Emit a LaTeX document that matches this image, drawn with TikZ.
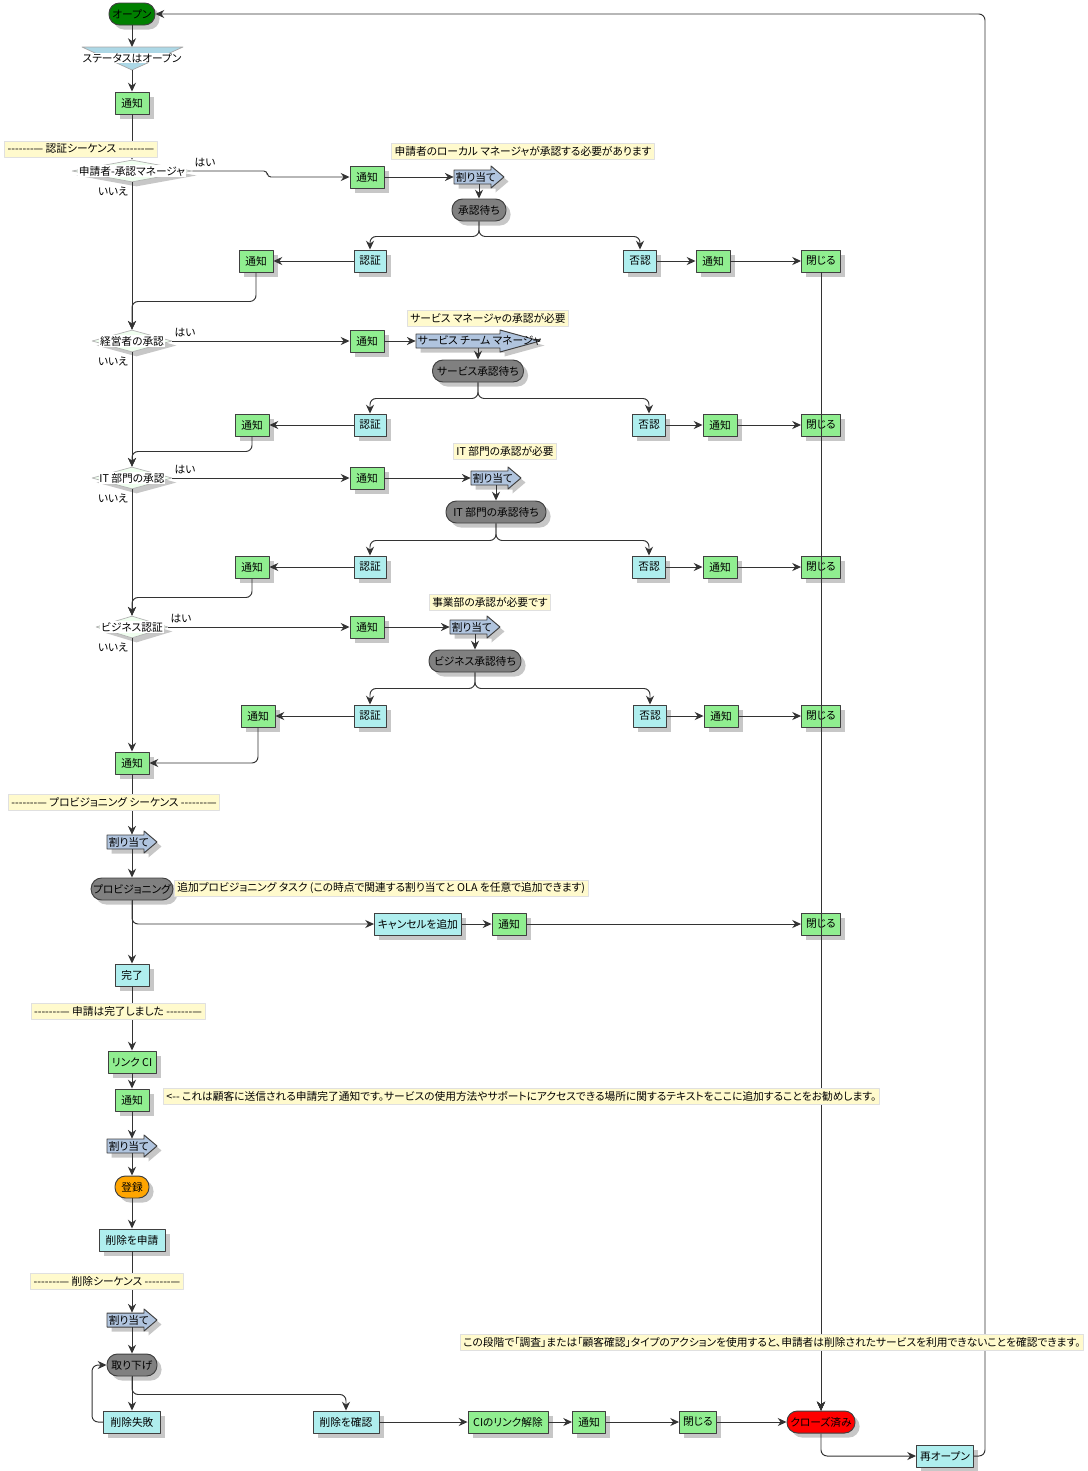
\documentclass[tikz,border=0pt]{standalone}
\usepackage{fontspec}
\setmainfont{Noto Sans CJK JP}[RawFeature=+palt]
\usetikzlibrary{arrows.meta,shapes.geometric,shadows,calc}
\definecolor{ntfgreen}{HTML}{90EE90}
\definecolor{actcyan}{HTML}{AFEEEE}
\definecolor{waitgray}{HTML}{808080}
\definecolor{asgblue}{HTML}{B0C4DE}
\definecolor{notefill}{HTML}{FFFACD}
\definecolor{diafill}{HTML}{F0FFF0}
\definecolor{openbg}{HTML}{008000}
\definecolor{regorange}{HTML}{FFA500}
\definecolor{statblue}{HTML}{ADD8E6}
\newcommand\seqdash{-{}-{}-{}-{}-{}-{}-—}
\newcommand \myasg[6]
{
\node[inner sep=0pt, minimum width=2*#4*0.02cm, minimum height=0.28cm] (#1) at (#2,#3) {};
\draw[asgshape] (#2-#4,#3-7) -- (#2+#4-#5,#3-7) -- (#2+#4-#5,#3-11) -- (#2+#4,#3)
  -- (#2+#4-#5,#3+11) -- (#2+#4-#5,#3+7) -- (#2-#4,#3+7) -- cycle;
\node[anchor=west, inner sep=1pt] at (#1.west) {#6};
}
\newcommand \mydia[5]
{
\node[dia, minimum width=#4*0.02cm] (#1) at (#2,#3) {};
\node[diatext] at (#1) {#5};
}
\begin{document}
\begin{tikzpicture}[x=0.02cm, y=-0.02cm, line join=round,
  shad/.style={drop shadow={shadow xshift=0.09cm, shadow yshift=-0.09cm, fill=black!22, opacity=1}},
  box/.style={draw=black!75, line width=0.55pt, minimum height=0.44cm, inner xsep=0.04cm, inner ysep=0pt, shad},
  pxw/.style={minimum width=#1*0.02cm},
  ntf/.style={box, fill=ntfgreen, pxw=34},
  act/.style={box, fill=actcyan},
  pill/.style={box, rounded corners=0.21cm, fill=waitgray},
  dia/.style={diamond, draw=black!30, fill=diafill, inner sep=0pt, minimum height=0.44cm, shad},
  diatext/.style={fill=white, inner sep=0.4pt},
  asgshape/.style={draw=black!75, line width=0.55pt, fill=asgblue, shad},
  note/.style={draw=black!12, fill=notefill, inner xsep=0.06cm, inner ysep=0pt, minimum height=0.32cm},
  yn/.style={inner sep=0pt},
  conn/.style={draw=black!80, line width=0.55pt, rounded corners=3.5pt, -{Stealth[length=5pt,width=4.6pt]}},
  every node/.style={font=\fontsize{6.1}{7.2}\selectfont}]
\useasboundingbox (0,0) rectangle (1088,1471);

% start
\node[pill, fill=openbg, pxw=46] (open) at (132,14) {オープン};
\draw[draw=black!35, fill=statblue] (82,47) -- (183,47) -- (132,70) -- cycle;
\coordinate (sttop) at (132,47);
\coordinate (stbot) at (132,70);
\node[diatext] (stat) at (132,58) {ステータスはオープン};
\node[ntf] (ntf0) at (132,103) {通知};

% local manager approval
\mydia{dia1}{132}{171}{120}{申請者-承認マネージャ}
\node[yn] (yes1) at (205,163) {はい};
\node[yn] (no1) at (113,191) {いいえ};
\node[ntf] (ntf1) at (367,177) {通知};
\myasg{asg1}{479}{177}{25}{13}{割り当て}
\node[pill, pxw=54] (wait1) at (479,210) {承認待ち};
\node[act, pxw=32] (auth1) at (370,261) {認証};
\node[act, pxw=33] (rej1) at (640,261) {否認};
\node[ntf] (ntfr1) at (713,261) {通知};
\node[ntf, pxw=39] (cls1) at (821,261) {閉じる};
\node[ntf] (ntfl1) at (256,261) {通知};

% service manager approval
\mydia{dia2}{132}{341}{80}{経営者の承認}
\node[yn] (yes2) at (185,333) {はい};
\node[yn] (no2) at (113,361) {いいえ};
\node[ntf] (ntf2) at (367,341) {通知};
\myasg{asg2}{478}{341}{62}{40}{サービス チーム マネージャ}
\node[pill, pxw=91] (wait2) at (478,371) {サービス承認待ち};
\node[act, pxw=32] (auth2) at (370,425) {認証};
\node[act, pxw=33] (rej2) at (649,425) {否認};
\node[ntf] (ntfr2) at (720,425) {通知};
\node[ntf, pxw=39] (cls2) at (821,425) {閉じる};
\node[ntf] (ntfl2) at (252,425) {通知};

% IT approval
\mydia{dia3}{132}{478}{80}{IT 部門の承認}
\node[yn] (yes3) at (185,470) {はい};
\node[yn] (no3) at (113,498) {いいえ};
\node[ntf] (ntf3) at (367,478) {通知};
\myasg{asg3}{496}{478}{25}{13}{割り当て}
\node[pill, pxw=100] (wait3) at (496,512) {IT 部門の承認待ち};
\node[act, pxw=32] (auth3) at (370,567) {認証};
\node[act, pxw=33] (rej3) at (649,567) {否認};
\node[ntf] (ntfr3) at (720,567) {通知};
\node[ntf, pxw=39] (cls3) at (821,567) {閉じる};
\node[ntf] (ntfl3) at (252,567) {通知};

% business approval
\mydia{dia4}{132}{627}{72}{ビジネス認証}
\node[yn] (yes4) at (181,619) {はい};
\node[yn] (no4) at (113,647) {いいえ};
\node[ntf] (ntf4) at (367,627) {通知};
\myasg{asg4}{475}{627}{25}{13}{割り当て}
\node[pill, pxw=92] (wait4) at (475,661) {ビジネス承認待ち};
\node[act, pxw=32] (auth4) at (370,716) {認証};
\node[act, pxw=33] (rej4) at (650,716) {否認};
\node[ntf] (ntfr4) at (721,716) {通知};
\node[ntf, pxw=39] (cls4) at (821,716) {閉じる};
\node[ntf] (ntfl4) at (258,716) {通知};
\node[ntf] (ntf5) at (132,763) {通知};

% provisioning
\myasg{asg5}{132}{842}{25}{13}{割り当て}
\node[pill, pxw=78] (prov) at (132,889) {プロビジョニング};
\node[act, pxw=87] (cancel) at (418,924) {キャンセルを追加};
\node[ntf] (ntf6) at (509,924) {通知};
\node[ntf, pxw=39] (cls5) at (821,924) {閉じる};
\node[act, pxw=34] (done) at (132,975) {完了};
\node[ntf, pxw=48] (link) at (132,1062) {リンク CI};
\node[ntf] (ntf7) at (132,1100) {通知};
\myasg{asg6}{132}{1146}{25}{13}{割り当て}
\node[pill, fill=regorange, pxw=34] (reg) at (132,1187) {登録};
\node[act, pxw=66] (delreq) at (132,1240) {削除を申請};

% removal
\myasg{asg7}{132}{1320}{25}{13}{割り当て}
\node[pill, pxw=50] (wd) at (132,1365) {取り下げ};
\node[act, pxw=57] (fail) at (132,1422) {削除失敗};
\node[act, pxw=66] (conf) at (346,1422) {削除を確認};
\node[ntf, pxw=80] (unlink) at (508,1422) {CIのリンク解除};
\node[ntf, pxw=33] (ntf8) at (589,1422) {通知};
\node[ntf, pxw=37] (cls6) at (698,1422) {閉じる};
\node[pill, fill=red, pxw=68] (closed) at (821,1422) {クローズ済み};
\node[act, pxw=57] (reopen) at (945,1456) {再オープン};

% connectors
\draw[conn] (open.south) -- (sttop);
\draw[conn] (stbot) -- (ntf0.north);
\draw[conn] (ntf0.south) -- (dia1.north);
\draw[conn, rounded corners=2pt] (dia1.east) -- ++(75,0) |- (ntf1.west);
\draw[conn] (ntf1.east) -- (asg1.west);
\draw[conn] (asg1.south) -- (wait1.north);
\draw[conn] (wait1.south) -- ++(0,15) -| (auth1.north);
\draw[conn] (wait1.south) -- ++(0,15) -| (rej1.north);
\draw[conn] (rej1.east) -- (ntfr1.west);
\draw[conn] (ntfr1.east) -- (cls1.west);
\draw[conn] (auth1.west) -- (ntfl1.east);
\draw[conn] (ntfl1.south) -- ++(0,29) -| (dia2.north);
\draw[conn] (dia1.south) -- (dia2.north);

\draw[conn] (dia2.east) -- (ntf2.west);
\draw[conn] (ntf2.east) -- (asg2.west);
\draw[conn] (asg2.south) -- (wait2.north);
\draw[conn] (wait2.south) -- ++(0,16) -| (auth2.north);
\draw[conn] (wait2.south) -- ++(0,16) -| (rej2.north);
\draw[conn] (rej2.east) -- (ntfr2.west);
\draw[conn] (ntfr2.east) -- (cls2.west);
\draw[conn] (auth2.west) -- (ntfl2.east);
\draw[conn] (ntfl2.south) -- ++(0,15) -| (dia3.north);
\draw[conn] (dia2.south) -- (dia3.north);

\draw[conn] (dia3.east) -- (ntf3.west);
\draw[conn] (ntf3.east) -- (asg3.west);
\draw[conn] (asg3.south) -- (wait3.north);
\draw[conn] (wait3.south) -- ++(0,17) -| (auth3.north);
\draw[conn] (wait3.south) -- ++(0,17) -| (rej3.north);
\draw[conn] (rej3.east) -- (ntfr3.west);
\draw[conn] (ntfr3.east) -- (cls3.west);
\draw[conn] (auth3.west) -- (ntfl3.east);
\draw[conn] (ntfl3.south) -- ++(0,19) -| (dia4.north);
\draw[conn] (dia3.south) -- (dia4.north);

\draw[conn] (dia4.east) -- (ntf4.west);
\draw[conn] (ntf4.east) -- (asg4.west);
\draw[conn] (asg4.south) -- (wait4.north);
\draw[conn] (wait4.south) -- ++(0,16) -| (auth4.north);
\draw[conn] (wait4.south) -- ++(0,16) -| (rej4.north);
\draw[conn] (rej4.east) -- (ntfr4.west);
\draw[conn] (ntfr4.east) -- (cls4.west);
\draw[conn] (auth4.west) -- (ntfl4.east);
\draw[conn] (ntfl4.south) |- (ntf5.east);
\draw[conn] (dia4.south) -- (ntf5.north);

\draw[conn] (ntf5.south) -- (asg5.north);
\draw[conn] (asg5.south) -- (prov.north);
\draw[conn] (prov.south) -- (done.north);
\draw[conn] (prov.south) |- (cancel.west);
\draw[conn] (cancel.east) -- (ntf6.west);
\draw[conn] (ntf6.east) -- (cls5.west);
\draw[conn] (done.south) -- (link.north);
\draw[conn] (link.south) -- (ntf7.north);
\draw[conn] (ntf7.south) -- (asg6.north);
\draw[conn] (asg6.south) -- (reg.north);
\draw[conn] (reg.south) -- (delreq.north);
\draw[conn] (delreq.south) -- (asg7.north);
\draw[conn] (asg7.south) -- (wd.north);
\draw[conn] (wd.south) -- (fail.north);
\draw[conn] (wd.south) -- ++(0,18) -| (conf.north);
\draw[conn] (fail.west) -- ++(-11,0) |- (wd.west);
\draw[conn] (conf.east) -- (unlink.west);
\draw[conn] (unlink.east) -- (ntf8.west);
\draw[conn] (ntf8.east) -- (cls6.west);
\draw[conn] (cls6.east) -- (closed.west);
\draw[conn] (cls1.south) -- (closed.north);
\draw[conn] (cls2.south) -- (closed.north);
\draw[conn] (cls3.south) -- (closed.north);
\draw[conn] (cls4.south) -- (closed.north);
\draw[conn] (cls5.south) -- (closed.north);
\draw[conn] (closed.south) |- (reopen.west);
\draw[conn] (reopen.east) -- ++(11,0) |- (open.east);

% notes
\node[note] (seqA) at (81,149) {\seqdash\ 認証シーケンス \seqdash};
\node[note] (memo1) at (523,151) {申請者のローカル マネージャが承認する必要があります};
\node[note] (memo2) at (488,318) {サービス マネージャの承認が必要};
\node[note] (memo3) at (505,451) {IT 部門の承認が必要};
\node[note] (memo4) at (490,602) {事業部の承認が必要です};
\node[note] (seqB) at (114,802) {\seqdash\ プロビジョニング シーケンス \seqdash};
\node[note, anchor=west] (memo5) at (174,888) {追加プロビジョニング タスク (この時点で関連する割り当てと OLA を任意で追加できます)};
\node[note] (seqC) at (118,1011) {\seqdash\ 申請は完了しました \seqdash};
\node[note, anchor=west] (memo6) at (163,1096) {<-{}- これは顧客に送信される申請完了通知です。サービスの使用方法やサポートにアクセスできる場所に関するテキストをここに追加することをお勧めします。};
\node[note] (seqD) at (107,1281) {\seqdash\ 削除シーケンス \seqdash};
\node[note, anchor=east] (memo7) at (1084,1342) {この段階で「調査」または「顧客確認」タイプのアクションを使用すると、申請者は削除されたサービスを利用できないことを確認できます。};
\end{tikzpicture}
\end{document}
